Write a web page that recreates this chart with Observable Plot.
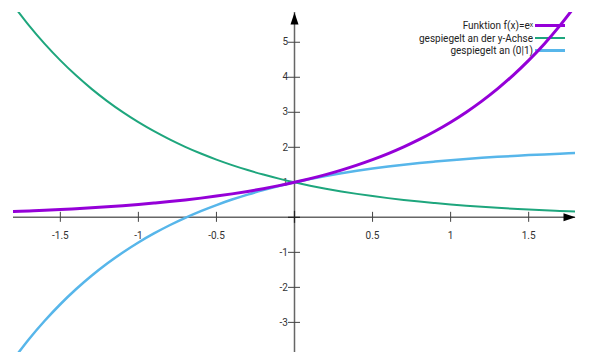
<!DOCTYPE html>
<html><head><meta charset="utf-8">
<script src="https://cdn.jsdelivr.net/npm/d3@7"></script>
<script src="https://cdn.jsdelivr.net/npm/@observablehq/plot@0.6"></script>
<style>
body{margin:0;background:#fff;font-family:Roboto,sans-serif;overflow:hidden;}
#wrap{position:relative;width:590px;height:362px;}
#legend{position:absolute;top:19px;right:25px;z-index:0;font-size:10px;color:#222;}
.row{display:flex;align-items:center;justify-content:flex-end;height:12.7px;white-space:nowrap;}
.sw{display:inline-block;width:30px;margin-left:2px;}
#chart{position:absolute;left:0;top:0;z-index:1;}
</style></head><body>
<div id="wrap"><div id="legend"></div><div id="chart"></div></div>
<script>
const xs = [-1.8,-1.7,-1.6,-1.5,-1.4,-1.3,-1.2,-1.1,-1.0,-0.9,-0.8,-0.7,-0.6,-0.5,-0.4,-0.3,-0.2,-0.1,0,
  0.1,0.2,0.3,0.4,0.5,0.6,0.7,0.8,0.9,1.0,1.1,1.2,1.3,1.4,1.5,1.6,1.7,1.8];
const expValues = [0.165,0.183,0.202,0.223,0.247,0.273,0.301,0.333,0.368,0.407,0.449,0.497,0.549,0.607,0.670,0.741,0.819,0.905,1,
  1.105,1.221,1.350,1.492,1.649,1.822,2.014,2.226,2.460,2.718,3.004,3.320,3.669,4.055,4.482,4.953,5.474,6.050];
const mirrorYValues = [6.050,5.474,4.953,4.482,4.055,3.669,3.320,3.004,2.718,2.460,2.226,2.014,1.822,1.649,1.492,1.350,1.221,1.105,1,
  0.905,0.819,0.741,0.670,0.607,0.549,0.497,0.449,0.407,0.368,0.333,0.301,0.273,0.247,0.223,0.202,0.183,0.165];
const mirrorPointValues = [-4.050,-3.474,-2.953,-2.482,-2.055,-1.669,-1.320,-1.004,-0.718,-0.460,-0.226,-0.014,0.178,0.351,0.508,0.650,0.779,0.895,1,
  1.095,1.181,1.259,1.330,1.393,1.451,1.503,1.551,1.593,1.632,1.667,1.699,1.727,1.753,1.777,1.798,1.817,1.835];

const seriesNames = ["Funktion f(x)=eˣ", "gespiegelt an der y-Achse", "gespiegelt an (0|1)"];
const seriesColors = ["#9500d8", "#1ea67d", "#57b6ea"];
const seriesWidths = [3, 2, 2.5];

const xTicks = [-1.5, -1, -0.5, 0.5, 1, 1.5];
const yTicks = [-3, -2, -1, 1, 2, 3, 4, 5];
const xDomain = [-1.8, 1.8];
const yDomain = [-3.86, 5.85];

const seriesValues = [expValues, mirrorYValues, mirrorPointValues];
const data = seriesValues.flatMap((vals, i) => xs.map((x, j) => ({x, y: vals[j], s: seriesNames[i]})));

const arrowHead = {
  draw(ctx) { ctx.moveTo(0, 0); ctx.lineTo(-12, -4); ctx.lineTo(-12, 4); ctx.closePath(); }
};

const drawOrder = [1, 2, 0];

const chart = Plot.plot({
  width: 590,
  height: 362,
  marginLeft: 13,
  marginRight: 15,
  marginTop: 12,
  marginBottom: 10,
  style: {background: "transparent", fontFamily: "Roboto, sans-serif"},
  x: {domain: xDomain, axis: null},
  y: {domain: yDomain, axis: null},
  marks: [
    Plot.ruleY([0], {x1: xDomain[0], x2: xDomain[1], stroke: "#666", strokeWidth: 1.5}),
    Plot.ruleX([0], {y1: yDomain[0], y2: yDomain[1], stroke: "#666", strokeWidth: 1.5}),
    Plot.ruleX(xTicks, {x: d => d, y1: 0, y2: 0, insetTop: -5, insetBottom: -5, stroke: "#444", strokeWidth: 1}),
    Plot.ruleY(yTicks, {y: d => d, x1: 0, x2: 0, insetLeft: -6, insetRight: -6, stroke: "#444", strokeWidth: 1}),
    Plot.ruleY([0], {x1: 0, x2: 0, insetLeft: -6, insetRight: -6, stroke: "#222", strokeWidth: 1.2}),
    Plot.ruleX([0], {y1: 0, y2: 0, insetTop: -6, insetBottom: -6, stroke: "#222", strokeWidth: 1.2}),
    Plot.text(xTicks, {x: d => d, y: 0, dy: 18, text: d => String(d), fontSize: 10, fill: "#333"}),
    Plot.text(yTicks, {x: 0, y: d => d, dx: -6.5, textAnchor: "end", text: d => String(d), fontSize: 10, fill: "#333"}),
    Plot.dot([[xDomain[1], 0]], {x: d => d[0], y: d => d[1], symbol: arrowHead, fill: "#000", stroke: null, r: 4}),
    Plot.dot([[0, yDomain[1]]], {x: d => d[0], y: d => d[1], symbol: arrowHead, rotate: -90, fill: "#000", stroke: null, r: 4}),
    ...drawOrder.map(i => Plot.line(data.filter(d => d.s === seriesNames[i]), {
      x: "x", y: "y", stroke: seriesColors[i], strokeWidth: seriesWidths[i], curve: "natural", clip: true
    }))
  ]
});
document.getElementById("chart").appendChild(chart);

const legend = document.getElementById("legend");
seriesNames.forEach((name, i) => {
  const row = document.createElement("div");
  row.className = "row";
  const t = document.createElement("span");
  t.textContent = name;
  const sw = document.createElement("span");
  sw.className = "sw";
  sw.style.height = seriesWidths[i] + "px";
  sw.style.background = seriesColors[i];
  row.appendChild(t);
  row.appendChild(sw);
  legend.appendChild(row);
});
</script>
</body></html>
